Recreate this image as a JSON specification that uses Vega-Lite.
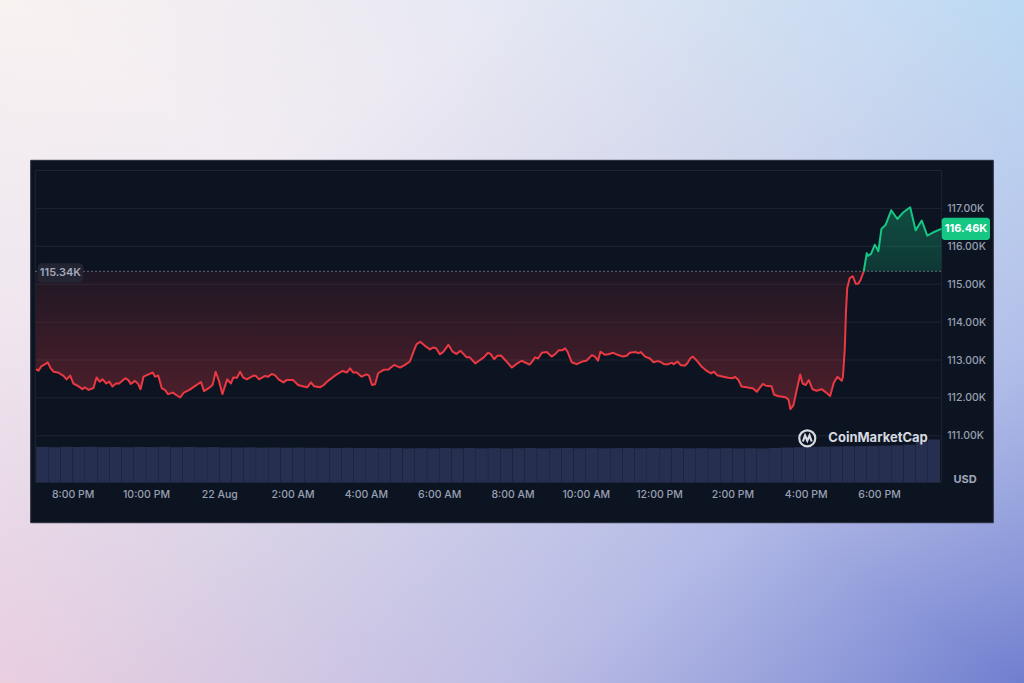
{
"$schema": "https://vega.github.io/schema/vega-lite/v6.json",
"width": 1024, "height": 683, "autosize": {"type": "none"}, "padding": 0,
"config": {"view": {"stroke": null}, "font": "Inter",
  "axis": {"labelFont": "Inter", "labelFontSize": 10.5, "labelColor": "#98a0b3", "labelFontWeight": 500, "domain": false, "ticks": false, "grid": false, "zindex": 1}},
"datasets": {
"grid": [{"p":111000},{"p":112000},{"p":113000},{"p":114000},{"p":115000},{"p":116000},{"p":117000}],
"price": [
{"t":"2025-08-21T19:00","p":112760},{"t":"2025-08-21T19:04","p":112720},{"t":"2025-08-21T19:09","p":112840},{"t":"2025-08-21T19:15","p":112890},{"t":"2025-08-21T19:19","p":112940},{"t":"2025-08-21T19:24","p":112780},{"t":"2025-08-21T19:29","p":112690},{"t":"2025-08-21T19:36","p":112670},{"t":"2025-08-21T19:45","p":112580},{"t":"2025-08-21T19:50","p":112490},{"t":"2025-08-21T19:56","p":112590},
{"t":"2025-08-21T20:01","p":112380},{"t":"2025-08-21T20:09","p":112310},{"t":"2025-08-21T20:16","p":112230},{"t":"2025-08-21T20:20","p":112280},{"t":"2025-08-21T20:26","p":112210},{"t":"2025-08-21T20:34","p":112260},{"t":"2025-08-21T20:39","p":112540},{"t":"2025-08-21T20:44","p":112430},{"t":"2025-08-21T20:49","p":112490},{"t":"2025-08-21T20:55","p":112380},
{"t":"2025-08-21T21:00","p":112430},{"t":"2025-08-21T21:05","p":112300},{"t":"2025-08-21T21:11","p":112380},{"t":"2025-08-21T21:16","p":112380},{"t":"2025-08-21T21:26","p":112520},{"t":"2025-08-21T21:31","p":112470},{"t":"2025-08-21T21:35","p":112370},{"t":"2025-08-21T21:42","p":112450},{"t":"2025-08-21T21:47","p":112370},{"t":"2025-08-21T21:51","p":112230},{"t":"2025-08-21T21:56","p":112560},
{"t":"2025-08-21T22:04","p":112620},{"t":"2025-08-21T22:11","p":112670},{"t":"2025-08-21T22:15","p":112560},{"t":"2025-08-21T22:20","p":112590},{"t":"2025-08-21T22:26","p":112250},{"t":"2025-08-21T22:31","p":112210},{"t":"2025-08-21T22:36","p":112100},{"t":"2025-08-21T22:44","p":112140},{"t":"2025-08-21T22:50","p":112070},{"t":"2025-08-21T22:56","p":112010},
{"t":"2025-08-21T23:02","p":112140},{"t":"2025-08-21T23:11","p":112210},{"t":"2025-08-21T23:20","p":112310},{"t":"2025-08-21T23:30","p":112420},{"t":"2025-08-21T23:35","p":112180},{"t":"2025-08-21T23:42","p":112250},{"t":"2025-08-21T23:49","p":112340},{"t":"2025-08-21T23:54","p":112690},{"t":"2025-08-21T23:59","p":112470},
{"t":"2025-08-22T00:05","p":112100},{"t":"2025-08-22T00:13","p":112490},{"t":"2025-08-22T00:19","p":112380},{"t":"2025-08-22T00:23","p":112540},{"t":"2025-08-22T00:29","p":112530},{"t":"2025-08-22T00:34","p":112690},{"t":"2025-08-22T00:39","p":112540},{"t":"2025-08-22T00:45","p":112490},{"t":"2025-08-22T00:56","p":112590},
{"t":"2025-08-22T01:00","p":112580},{"t":"2025-08-22T01:05","p":112490},{"t":"2025-08-22T01:15","p":112580},{"t":"2025-08-22T01:20","p":112560},{"t":"2025-08-22T01:26","p":112630},{"t":"2025-08-22T01:31","p":112600},{"t":"2025-08-22T01:37","p":112490},{"t":"2025-08-22T01:45","p":112410},{"t":"2025-08-22T01:50","p":112470},
{"t":"2025-08-22T02:01","p":112470},{"t":"2025-08-22T02:09","p":112340},{"t":"2025-08-22T02:18","p":112300},{"t":"2025-08-22T02:24","p":112280},{"t":"2025-08-22T02:30","p":112410},{"t":"2025-08-22T02:35","p":112310},{"t":"2025-08-22T02:45","p":112280},{"t":"2025-08-22T02:51","p":112340},{"t":"2025-08-22T02:58","p":112450},
{"t":"2025-08-22T03:07","p":112560},{"t":"2025-08-22T03:15","p":112650},{"t":"2025-08-22T03:22","p":112710},{"t":"2025-08-22T03:29","p":112670},{"t":"2025-08-22T03:34","p":112780},{"t":"2025-08-22T03:39","p":112670},{"t":"2025-08-22T03:45","p":112670},{"t":"2025-08-22T03:53","p":112560},
{"t":"2025-08-22T04:01","p":112620},{"t":"2025-08-22T04:05","p":112590},{"t":"2025-08-22T04:10","p":112340},{"t":"2025-08-22T04:15","p":112360},{"t":"2025-08-22T04:20","p":112650},{"t":"2025-08-22T04:29","p":112740},{"t":"2025-08-22T04:37","p":112750},{"t":"2025-08-22T04:46","p":112870},{"t":"2025-08-22T04:56","p":112800},
{"t":"2025-08-22T05:04","p":112870},{"t":"2025-08-22T05:12","p":112960},{"t":"2025-08-22T05:18","p":113220},{"t":"2025-08-22T05:23","p":113420},{"t":"2025-08-22T05:29","p":113480},{"t":"2025-08-22T05:37","p":113370},{"t":"2025-08-22T05:45","p":113280},{"t":"2025-08-22T05:50","p":113330},{"t":"2025-08-22T05:55","p":113310},
{"t":"2025-08-22T06:01","p":113150},{"t":"2025-08-22T06:07","p":113220},{"t":"2025-08-22T06:15","p":113400},{"t":"2025-08-22T06:22","p":113220},{"t":"2025-08-22T06:28","p":113160},{"t":"2025-08-22T06:35","p":113240},{"t":"2025-08-22T06:45","p":113070},{"t":"2025-08-22T06:50","p":113070},{"t":"2025-08-22T06:59","p":112910},
{"t":"2025-08-22T07:07","p":113000},{"t":"2025-08-22T07:13","p":113070},{"t":"2025-08-22T07:20","p":113190},{"t":"2025-08-22T07:24","p":113160},{"t":"2025-08-22T07:30","p":113020},{"t":"2025-08-22T07:35","p":113110},{"t":"2025-08-22T07:41","p":113120},{"t":"2025-08-22T07:48","p":113000},{"t":"2025-08-22T07:53","p":112910},{"t":"2025-08-22T07:59","p":112800},
{"t":"2025-08-22T08:06","p":112890},{"t":"2025-08-22T08:15","p":112980},{"t":"2025-08-22T08:20","p":112940},{"t":"2025-08-22T08:28","p":112880},{"t":"2025-08-22T08:31","p":112930},{"t":"2025-08-22T08:37","p":113070},{"t":"2025-08-22T08:42","p":113040},{"t":"2025-08-22T08:48","p":113190},{"t":"2025-08-22T08:56","p":113210},
{"t":"2025-08-22T09:04","p":113090},{"t":"2025-08-22T09:10","p":113160},{"t":"2025-08-22T09:16","p":113260},{"t":"2025-08-22T09:22","p":113260},{"t":"2025-08-22T09:26","p":113310},{"t":"2025-08-22T09:30","p":113220},{"t":"2025-08-22T09:37","p":112940},{"t":"2025-08-22T09:45","p":112890},{"t":"2025-08-22T09:56","p":112970},
{"t":"2025-08-22T10:01","p":112980},{"t":"2025-08-22T10:10","p":113130},{"t":"2025-08-22T10:15","p":113090},{"t":"2025-08-22T10:20","p":112980},{"t":"2025-08-22T10:24","p":113220},{"t":"2025-08-22T10:31","p":113140},{"t":"2025-08-22T10:37","p":113150},{"t":"2025-08-22T10:45","p":113190},{"t":"2025-08-22T10:53","p":113130},
{"t":"2025-08-22T11:01","p":113090},{"t":"2025-08-22T11:07","p":113110},{"t":"2025-08-22T11:12","p":113190},{"t":"2025-08-22T11:21","p":113210},{"t":"2025-08-22T11:26","p":113180},{"t":"2025-08-22T11:30","p":113210},{"t":"2025-08-22T11:37","p":113090},{"t":"2025-08-22T11:45","p":113040},{"t":"2025-08-22T11:51","p":112940},{"t":"2025-08-22T11:57","p":112970},
{"t":"2025-08-22T12:01","p":112960},{"t":"2025-08-22T12:08","p":112890},{"t":"2025-08-22T12:15","p":112890},{"t":"2025-08-22T12:21","p":112930},{"t":"2025-08-22T12:24","p":112890},{"t":"2025-08-22T12:30","p":112960},{"t":"2025-08-22T12:35","p":112870},{"t":"2025-08-22T12:42","p":112850},{"t":"2025-08-22T12:46","p":112910},{"t":"2025-08-22T12:51","p":113040},{"t":"2025-08-22T12:55","p":113090},
{"t":"2025-08-22T13:02","p":112980},{"t":"2025-08-22T13:10","p":112820},{"t":"2025-08-22T13:18","p":112710},{"t":"2025-08-22T13:25","p":112650},{"t":"2025-08-22T13:30","p":112690},{"t":"2025-08-22T13:35","p":112600},{"t":"2025-08-22T13:45","p":112560},{"t":"2025-08-22T13:53","p":112530},
{"t":"2025-08-22T14:01","p":112520},{"t":"2025-08-22T14:04","p":112560},{"t":"2025-08-22T14:10","p":112470},{"t":"2025-08-22T14:15","p":112300},{"t":"2025-08-22T14:23","p":112280},{"t":"2025-08-22T14:34","p":112250},{"t":"2025-08-22T14:40","p":112160},{"t":"2025-08-22T14:44","p":112250},{"t":"2025-08-22T14:50","p":112370},{"t":"2025-08-22T14:55","p":112320},
{"t":"2025-08-22T15:04","p":112310},{"t":"2025-08-22T15:08","p":112090},{"t":"2025-08-22T15:14","p":112050},{"t":"2025-08-22T15:22","p":112030},{"t":"2025-08-22T15:28","p":112010},{"t":"2025-08-22T15:32","p":111940},{"t":"2025-08-22T15:35","p":111700},{"t":"2025-08-22T15:40","p":111810},{"t":"2025-08-22T15:45","p":112180},{"t":"2025-08-22T15:51","p":112620},{"t":"2025-08-22T15:55","p":112380},
{"t":"2025-08-22T16:00","p":112340},{"t":"2025-08-22T16:05","p":112470},{"t":"2025-08-22T16:11","p":112230},{"t":"2025-08-22T16:18","p":112190},{"t":"2025-08-22T16:26","p":112230},{"t":"2025-08-22T16:32","p":112160},{"t":"2025-08-22T16:40","p":112050},{"t":"2025-08-22T16:46","p":112400},{"t":"2025-08-22T16:52","p":112560},{"t":"2025-08-22T16:59","p":112450},
{"t":"2025-08-22T17:01","p":112560},{"t":"2025-08-22T17:04","p":113300},{"t":"2025-08-22T17:06","p":114300},{"t":"2025-08-22T17:08","p":114900},{"t":"2025-08-22T17:12","p":115160},{"t":"2025-08-22T17:17","p":115210},{"t":"2025-08-22T17:22","p":115010},{"t":"2025-08-22T17:26","p":115010},{"t":"2025-08-22T17:30","p":115120},{"t":"2025-08-22T17:33","p":115250},{"t":"2025-08-22T17:35","p":115340},
{"t":"2025-08-22T17:40","p":115820},{"t":"2025-08-22T17:42","p":115750},{"t":"2025-08-22T17:47","p":115800},{"t":"2025-08-22T17:53","p":116040},{"t":"2025-08-22T17:56","p":115960},{"t":"2025-08-22T17:59","p":115870},
{"t":"2025-08-22T18:04","p":116460},{"t":"2025-08-22T18:11","p":116570},{"t":"2025-08-22T18:20","p":116950},{"t":"2025-08-22T18:30","p":116720},{"t":"2025-08-22T18:40","p":116900},{"t":"2025-08-22T18:51","p":117030},
{"t":"2025-08-22T19:00","p":116420},{"t":"2025-08-22T19:10","p":116680},{"t":"2025-08-22T19:19","p":116280},{"t":"2025-08-22T19:29","p":116370},{"t":"2025-08-22T19:42","p":116460}
],
"vol": [
{"t":"2025-08-21T19:10","v":60.8},{"t":"2025-08-21T19:30","v":60.2},{"t":"2025-08-21T19:50","v":61.0},{"t":"2025-08-21T20:10","v":60.5},{"t":"2025-08-21T20:30","v":60.9},{"t":"2025-08-21T20:50","v":60.3},{"t":"2025-08-21T21:10","v":60.6},{"t":"2025-08-21T21:30","v":60.1},{"t":"2025-08-21T21:50","v":60.7},{"t":"2025-08-21T22:10","v":60.4},{"t":"2025-08-21T22:30","v":60.9},{"t":"2025-08-21T22:50","v":60.2},{"t":"2025-08-21T23:10","v":60.5},{"t":"2025-08-21T23:30","v":60.0},{"t":"2025-08-21T23:50","v":60.4},
{"t":"2025-08-22T00:10","v":59.8},{"t":"2025-08-22T00:30","v":59.6},{"t":"2025-08-22T00:50","v":59.9},{"t":"2025-08-22T01:10","v":59.4},{"t":"2025-08-22T01:30","v":59.7},{"t":"2025-08-22T01:50","v":59.2},{"t":"2025-08-22T02:10","v":59.5},{"t":"2025-08-22T02:30","v":59.0},{"t":"2025-08-22T02:50","v":59.3},{"t":"2025-08-22T03:10","v":58.8},{"t":"2025-08-22T03:30","v":59.1},{"t":"2025-08-22T03:50","v":58.7},
{"t":"2025-08-22T04:10","v":58.9},{"t":"2025-08-22T04:30","v":58.5},{"t":"2025-08-22T04:50","v":58.8},{"t":"2025-08-22T05:10","v":58.3},{"t":"2025-08-22T05:30","v":58.6},{"t":"2025-08-22T05:50","v":58.2},{"t":"2025-08-22T06:10","v":58.7},{"t":"2025-08-22T06:30","v":58.4},{"t":"2025-08-22T06:50","v":58.9},{"t":"2025-08-22T07:10","v":58.3},{"t":"2025-08-22T07:30","v":58.6},{"t":"2025-08-22T07:50","v":58.1},
{"t":"2025-08-22T08:10","v":58.5},{"t":"2025-08-22T08:30","v":58.8},{"t":"2025-08-22T08:50","v":58.2},{"t":"2025-08-22T09:10","v":58.6},{"t":"2025-08-22T09:30","v":58.9},{"t":"2025-08-22T09:50","v":58.4},{"t":"2025-08-22T10:10","v":58.7},{"t":"2025-08-22T10:30","v":58.3},{"t":"2025-08-22T10:50","v":58.6},{"t":"2025-08-22T11:10","v":58.9},{"t":"2025-08-22T11:30","v":58.5},{"t":"2025-08-22T11:50","v":58.8},
{"t":"2025-08-22T12:10","v":58.4},{"t":"2025-08-22T12:30","v":58.7},{"t":"2025-08-22T12:50","v":58.3},{"t":"2025-08-22T13:10","v":58.6},{"t":"2025-08-22T13:30","v":58.2},{"t":"2025-08-22T13:50","v":58.5},{"t":"2025-08-22T14:10","v":58.1},{"t":"2025-08-22T14:30","v":58.4},{"t":"2025-08-22T14:50","v":58.0},{"t":"2025-08-22T15:10","v":58.9},{"t":"2025-08-22T15:30","v":59.6},{"t":"2025-08-22T15:50","v":60.2},
{"t":"2025-08-22T16:10","v":60.8},{"t":"2025-08-22T16:30","v":61.2},{"t":"2025-08-22T16:50","v":61.5},{"t":"2025-08-22T17:10","v":61.8},{"t":"2025-08-22T17:30","v":62.0},{"t":"2025-08-22T17:50","v":62.4},{"t":"2025-08-22T18:10","v":62.8},{"t":"2025-08-22T18:30","v":63.5},{"t":"2025-08-22T18:50","v":64.5},
{"t":"2025-08-22T19:10","v":70.0},{"t":"2025-08-22T19:30","v":73.5}
]
},
"layer": [
  {"data": {"values": [{}]},
   "mark": {"type": "rect", "fill": {"gradient": "linear", "x1": 0, "y1": 0, "x2": 1, "y2": 1, "stops": [{"offset": 0, "color": "#f9f2f1"}, {"offset": 0.25, "color": "#f1ecf3"}, {"offset": 0.5, "color": "#d4d5ea"}, {"offset": 0.75, "color": "#b0b8e6"}, {"offset": 1, "color": "#6f7fcf"}]}},
   "encoding": {
     "x": {"datum": {"year": 2025, "month": 8, "date": 21, "hours": 18, "minutes": 0, "seconds": 59}, "type": "temporal",
           "scale": {"domain": [{"year": 2025, "month": 8, "date": 21, "hours": 18, "minutes": 0, "seconds": 59}, {"year": 2025, "month": 8, "date": 22, "hours": 21, "minutes": 57, "seconds": 23}], "nice": false, "padding": 0}},
     "x2": {"datum": {"year": 2025, "month": 8, "date": 22, "hours": 21, "minutes": 57, "seconds": 23}},
     "y": {"datum": 104477.6, "type": "quantitative", "axis": null, "scale": {"domain": [104477.6, 122498.7], "nice": false, "zero": false}},
     "y2": {"datum": 122498.7}}},
  {"data": {"values": [{}]},
   "mark": {"type": "rect", "fill": {"gradient": "linear", "x1": 0, "y1": 1, "x2": 1, "y2": 0, "stops": [{"offset": 0, "color": "rgba(255,200,212,0.5)"}, {"offset": 0.5, "color": "rgba(214,212,234,0)"}, {"offset": 1, "color": "rgba(157,222,255,0.45)"}]}},
   "encoding": {
     "x": {"datum": {"year": 2025, "month": 8, "date": 21, "hours": 18, "minutes": 0, "seconds": 59}, "type": "temporal"},
     "x2": {"datum": {"year": 2025, "month": 8, "date": 22, "hours": 21, "minutes": 57, "seconds": 23}},
     "y": {"datum": 104477.6, "type": "quantitative", "axis": null, "scale": {"domain": [104477.6, 122498.7], "nice": false, "zero": false}},
     "y2": {"datum": 122498.7}}},
  {"data": {"values": [{}]},
   "mark": {"type": "rect", "fill": "#0d1421", "stroke": "#2a2f3c", "strokeWidth": 1},
   "encoding": {
     "x": {"datum": {"year": 2025, "month": 8, "date": 21, "hours": 18, "minutes": 51, "seconds": 14}, "type": "temporal"},
     "x2": {"datum": {"year": 2025, "month": 8, "date": 22, "hours": 21, "minutes": 7, "seconds": 6}},
     "y": {"datum": 108707, "type": "quantitative", "axis": null, "scale": {"domain": [104477.6, 122498.7], "nice": false, "zero": false}},
     "y2": {"datum": 118269}}},
  {"data": {"name": "grid"},
   "mark": {"type": "rule", "stroke": "#1f2432", "strokeWidth": 1},
   "encoding": {
     "x": {"datum": {"year": 2025, "month": 8, "date": 21, "hours": 18, "minutes": 58, "seconds": 46}, "type": "temporal"},
     "x2": {"datum": {"year": 2025, "month": 8, "date": 22, "hours": 19, "minutes": 42, "seconds": 36}},
     "y": {"field": "p", "type": "quantitative", "axis": null, "scale": {"domain": [104477.6, 122498.7], "nice": false, "zero": false}}}},
  {"data": {"values": [{}]},
   "mark": {"type": "rect", "fill": "transparent", "stroke": "#1f2432", "strokeWidth": 1},
   "encoding": {
     "x": {"datum": {"year": 2025, "month": 8, "date": 21, "hours": 18, "minutes": 58, "seconds": 46}, "type": "temporal"},
     "x2": {"datum": {"year": 2025, "month": 8, "date": 22, "hours": 19, "minutes": 42, "seconds": 36}},
     "y": {"datum": 109773, "type": "quantitative", "axis": null, "scale": {"domain": [104477.6, 122498.7], "nice": false, "zero": false}},
     "y2": {"datum": 118000}}},
  {"data": {"name": "vol"},
   "mark": {"type": "bar", "size": 12, "color": "#262f50"},
   "encoding": {
     "x": {"field": "t", "type": "temporal"},
     "y": {"field": "v", "type": "quantitative", "axis": null, "scale": {"domain": [-344.06, 826.8], "nice": false}}}},
  {"data": {"name": "price"}, "transform": [{"filter": "datum.p <= 115340"}],
   "mark": {"type": "area", "fill": {"gradient": "linear", "x1": 0, "y1": 0, "x2": 0, "y2": 1, "stops": [{"offset": 0, "color": "rgba(234,57,67,0.08)"}, {"offset": 1, "color": "rgba(234,57,67,0.3)"}]}},
   "encoding": {
     "x": {"field": "t", "type": "temporal"},
     "y": {"field": "p", "type": "quantitative", "axis": null, "scale": {"domain": [104477.6, 122498.7], "nice": false, "zero": false}},
     "y2": {"datum": 115340}}},
  {"data": {"name": "price"}, "transform": [{"filter": "datum.p >= 115340"}],
   "mark": {"type": "area", "fill": {"gradient": "linear", "x1": 0, "y1": 0, "x2": 0, "y2": 1, "stops": [{"offset": 0, "color": "rgba(22,199,132,0.32)"}, {"offset": 1, "color": "rgba(22,199,132,0.2)"}]}},
   "encoding": {
     "x": {"field": "t", "type": "temporal"},
     "y": {"field": "p", "type": "quantitative", "axis": null, "scale": {"domain": [104477.6, 122498.7], "nice": false, "zero": false}},
     "y2": {"datum": 115340}}},
  {"data": {"values": [{}]},
   "mark": {"type": "rule", "stroke": "#7a8192", "strokeWidth": 1, "strokeDash": [1.5, 2.5]},
   "encoding": {
     "x": {"datum": {"year": 2025, "month": 8, "date": 21, "hours": 18, "minutes": 58, "seconds": 46}, "type": "temporal"},
     "x2": {"datum": {"year": 2025, "month": 8, "date": 22, "hours": 19, "minutes": 42, "seconds": 36}},
     "y": {"datum": 115340, "type": "quantitative", "axis": null, "scale": {"domain": [104477.6, 122498.7], "nice": false, "zero": false}}}},
  {"data": {"name": "price"}, "transform": [{"filter": "datum.p <= 115340"}],
   "mark": {"type": "line", "stroke": "#ea3943", "strokeWidth": 2, "strokeJoin": "round"},
   "encoding": {
     "x": {"field": "t", "type": "temporal",
           "axis": {"orient": "bottom", "offset": -200.7, "title": null, "domain": false, "ticks": false, "grid": false, "labelPadding": 7, "labelFlush": false, "labelOverlap": false, "zindex": 1,
             "values": [{"year": 2025, "month": 8, "date": 21, "hours": 20}, {"year": 2025, "month": 8, "date": 21, "hours": 22}, {"year": 2025, "month": 8, "date": 22, "hours": 0}, {"year": 2025, "month": 8, "date": 22, "hours": 2}, {"year": 2025, "month": 8, "date": 22, "hours": 4}, {"year": 2025, "month": 8, "date": 22, "hours": 6}, {"year": 2025, "month": 8, "date": 22, "hours": 8}, {"year": 2025, "month": 8, "date": 22, "hours": 10}, {"year": 2025, "month": 8, "date": 22, "hours": 12}, {"year": 2025, "month": 8, "date": 22, "hours": 14}, {"year": 2025, "month": 8, "date": 22, "hours": 16}, {"year": 2025, "month": 8, "date": 22, "hours": 18}],
             "labelExpr": "hours(datum.value) == 0 ? timeFormat(datum.value, '%-d %b') : timeFormat(datum.value, '%-I:%M %p')"}},
     "y": {"field": "p", "type": "quantitative", "scale": {"domain": [104477.6, 122498.7], "nice": false, "zero": false},
           "axis": {"orient": "right", "offset": -82.3, "title": null, "domain": false, "ticks": false, "grid": false, "labelPadding": 5, "zindex": 1,
             "values": [111000, 112000, 113000, 114000, 115000, 116000, 117000],
             "labelExpr": "format(datum.value / 1000, '.2f') + 'K'"}}}},
  {"data": {"name": "price"}, "transform": [{"filter": "datum.p >= 115340"}],
   "mark": {"type": "line", "stroke": "#16c784", "strokeWidth": 2, "strokeJoin": "round"},
   "encoding": {
     "x": {"field": "t", "type": "temporal"},
     "y": {"field": "p", "type": "quantitative", "axis": null, "scale": {"domain": [104477.6, 122498.7], "nice": false, "zero": false}}}},
  {"data": {"values": [{}]},
   "mark": {"type": "rect", "fill": "#222531", "cornerRadius": 4},
   "encoding": {
     "x": {"datum": {"year": 2025, "month": 8, "date": 21, "hours": 19, "minutes": 2, "seconds": 42}, "type": "temporal"},
     "x2": {"datum": {"year": 2025, "month": 8, "date": 21, "hours": 20, "minutes": 17, "seconds": 21}},
     "y": {"datum": 115040, "type": "quantitative", "axis": null, "scale": {"domain": [104477.6, 122498.7], "nice": false, "zero": false}},
     "y2": {"datum": 115550}}},
  {"data": {"values": [{}]},
   "mark": {"type": "text", "text": "115.34K", "font": "Inter", "fontSize": 11, "fontWeight": 600, "color": "#a1a7bb", "align": "center", "baseline": "middle"},
   "encoding": {
     "x": {"datum": {"year": 2025, "month": 8, "date": 21, "hours": 19, "minutes": 40}, "type": "temporal"},
     "y": {"datum": 115290, "type": "quantitative", "axis": null, "scale": {"domain": [104477.6, 122498.7], "nice": false, "zero": false}}}},
  {"data": {"values": [{}]},
   "mark": {"type": "rect", "fill": "#16c784", "cornerRadius": 3},
   "encoding": {
     "x": {"datum": {"year": 2025, "month": 8, "date": 22, "hours": 19, "minutes": 42, "seconds": 36}, "type": "temporal"},
     "x2": {"datum": {"year": 2025, "month": 8, "date": 22, "hours": 21, "minutes": 1, "seconds": 42}},
     "y": {"datum": 116166, "type": "quantitative", "axis": null, "scale": {"domain": [104477.6, 122498.7], "nice": false, "zero": false}},
     "y2": {"datum": 116755}}},
  {"data": {"values": [{}]},
   "mark": {"type": "text", "text": "116.46K", "font": "Inter", "fontSize": 11, "fontWeight": 700, "color": "#ffffff", "align": "center", "baseline": "middle"},
   "encoding": {
     "x": {"datum": {"year": 2025, "month": 8, "date": 22, "hours": 20, "minutes": 22, "seconds": 24}, "type": "temporal"},
     "y": {"datum": 116460, "type": "quantitative", "axis": null, "scale": {"domain": [104477.6, 122498.7], "nice": false, "zero": false}}}},
  {"data": {"values": [{}]},
   "mark": {"type": "text", "text": "USD", "font": "Inter", "fontSize": 11, "fontWeight": 700, "color": "#a1a7bb", "align": "center", "baseline": "middle"},
   "encoding": {
     "x": {"datum": {"year": 2025, "month": 8, "date": 22, "hours": 20, "minutes": 20, "seconds": 48}, "type": "temporal"},
     "y": {"datum": 109834, "type": "quantitative", "axis": null, "scale": {"domain": [104477.6, 122498.7], "nice": false, "zero": false}}}},
  {"data": {"values": [{}]},
   "mark": {"type": "point", "shape": "M1,0A1,1,0,1,1,-1,0A1,1,0,1,1,1,0M-0.55,0.4L-0.28,-0.35L0,0.3L0.28,-0.35L0.55,0.4", "size": 256, "filled": false, "color": "#d5d9e0", "strokeWidth": 2.2, "opacity": 1},
   "encoding": {
     "x": {"datum": {"year": 2025, "month": 8, "date": 22, "hours": 16, "minutes": 2, "seconds": 36}, "type": "temporal"},
     "y": {"datum": 110934, "type": "quantitative", "axis": null, "scale": {"domain": [104477.6, 122498.7], "nice": false, "zero": false}}}},
  {"data": {"values": [{}]},
   "mark": {"type": "text", "text": "CoinMarketCap", "font": "Inter", "fontSize": 13, "fontWeight": 700, "color": "#d5d9e0", "align": "left", "baseline": "middle"},
   "encoding": {
     "x": {"datum": {"year": 2025, "month": 8, "date": 22, "hours": 16, "minutes": 37}, "type": "temporal"},
     "y": {"datum": 110934, "type": "quantitative", "axis": null, "scale": {"domain": [104477.6, 122498.7], "nice": false, "zero": false}}}}
],
"resolve": {"scale": {"y": "independent"}}
}
